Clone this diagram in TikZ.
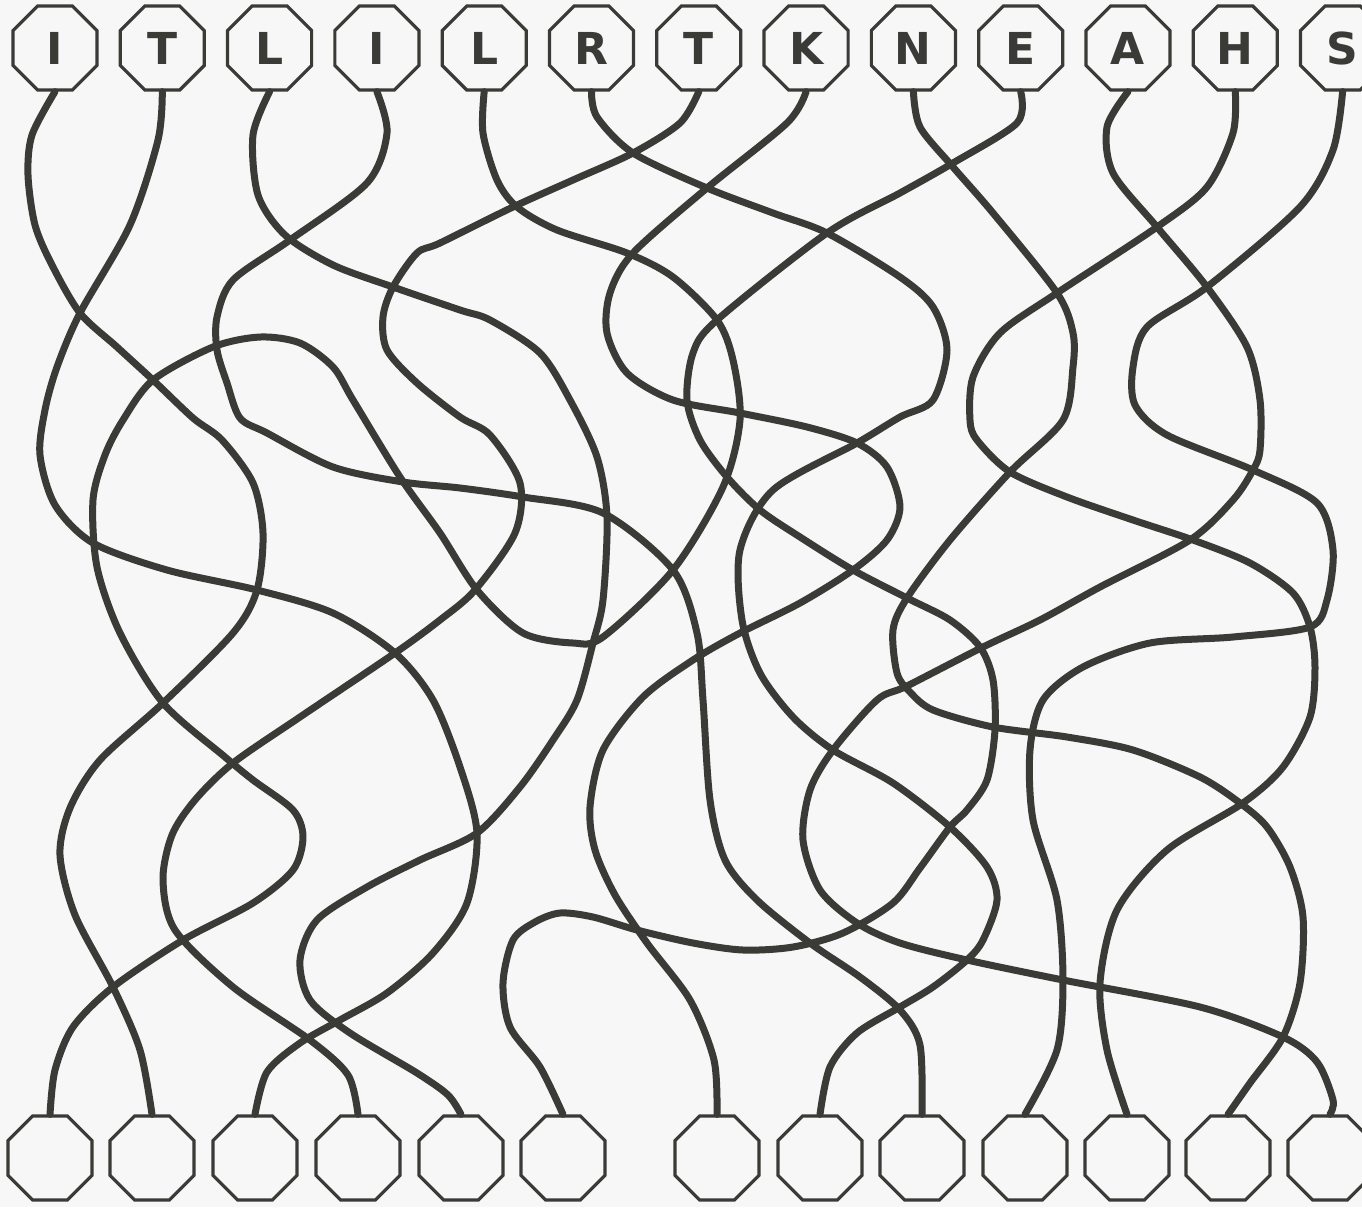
\documentclass[tikz,border=0pt]{standalone}
\usepackage{fontspec}
\newfontfamily\octfont{DejaVu Sans}
\usetikzlibrary{shapes.geometric}
\definecolor{ink}{HTML}{3A3A36}
\definecolor{paper}{HTML}{F7F7F8}
\tikzset{
  oct/.style={regular polygon, regular polygon sides=8, draw=ink, fill=paper,
    line width=1.6pt, minimum size=45.5pt, inner sep=0pt, text=ink,
    font=\octfont\bfseries\fontsize{22}{22}\selectfont},
  wire/.style={draw=ink, line width=3.5pt, line cap=round, line join=round}
}
\begin{document}
\begin{tikzpicture}[x=0.5pt, y=-0.5pt]
  \fill[paper] (0,0) rectangle (1362,1207);
  \useasboundingbox (0,0) rectangle (1362,1207);

  % 上の八角形
  \foreach \l [count=\i] in {I,T,L,I,L,R,T,K,N,E,A,H,S}
    \node[oct] (t\i) at ({55+107.3*(\i-1)},48) {\l};

  % 下の八角形
  \foreach \x [count=\i] in {50,152,255,358,461,563,717,820,922,1025,1127,1228,1330}
    \node[oct] (b\i) at (\x,1158) {};

  % 線
  \draw[wire] plot[smooth] coordinates {(t1.south) (32,135) (28,175) (35,225) (52,265) (80,313) (117,347) (153,380) (193,418) (222,440) (253,483) (263,533) (257,590) (233,633) (163,703) (100,760) (70,808) (60,855) (75,915) (113,987) (140,1050) (b2.north)};
  \draw[wire] plot[smooth] coordinates {(t2.south) (158,140) (130,225) (80,313) (57,367) (45,410) (40,455) (55,505) (93,543) (167,570) (257,590) (333,613) (395,653) (433,700) (460,767) (477,833) (467,903) (433,953) (387,993) (340,1020) (300,1043) (267,1072) (b3.north)};
  \draw[wire] plot[smooth] coordinates {(t3.south) (253,135) (258,195) (285,235) (333,265) (393,287) (460,310) (490,320) (540,353) (570,400) (597,457) (607,517) (603,600) (593,643) (577,700) (553,740) (520,787) (477,833) (420,860) (367,887) (317,920) (300,960) (310,1000) (350,1033) (417,1073) (448,1095) (b5.north)};
  \draw[wire] plot[smooth] coordinates {(t4.south) (387,133) (367,183) (290,240) (233,280) (217,317) (217,350) (227,383) (240,418) (267,433) (333,467) (403,482) (460,488) (523,497) (603,513) (673,570) (697,633) (703,700) (710,800) (725,860) (757,900) (810,943) (860,977) (900,1010) (920,1045) (b9.north)};
  \draw[wire] plot[smooth] coordinates {(t5.south) (483,133) (497,180) (517,207) (557,230) (627,253) (673,277) (717,320) (733,360) (740,420) (723,487) (673,570) (603,637) (573,643) (523,633) (477,590) (440,533) (400,477) (353,400) (333,367) (300,343) (260,337) (213,347) (153,380) (123,420) (105,455) (93,500) (97,567) (120,633) (163,703) (225,757) (253,780) (293,810) (303,837) (293,870) (253,903) (183,940) (113,987) (73,1027) (55,1070) (b1.north)};
  \draw[wire] plot[smooth] coordinates {(t6.south) (597,117) (633,153) (707,188) (773,213) (827,233) (900,277) (933,307) (947,350) (933,400) (900,417) (857,443) (773,490) (740,550) (742,620) (760,673) (793,717) (833,750) (893,783) (950,827) (987,867) (997,900) (983,940) (967,960) (933,987) (900,1007) (857,1033) (830,1067) (b8.north)};
  \draw[wire] plot[smooth] coordinates {(t7.south) (680,123) (633,153) (573,180) (513,207) (440,243) (417,253) (393,287) (383,317) (387,350) (417,383) (460,417) (490,435) (520,483) (515,533) (475,590) (440,620) (395,653) (300,717) (233,763) (195,800) (172,835) (163,880) (175,930) (233,987) (310,1040) (348,1075) (b4.north)};
  \draw[wire] plot[smooth] coordinates {(t8.south) (787,123) (707,188) (633,253) (610,293) (607,333) (627,373) (673,400) (740,413) (807,427) (857,443) (887,467) (900,507) (887,540) (853,570) (800,603) (740,633) (693,660) (643,697) (603,750) (590,807) (595,850) (615,895) (647,943) (690,1000) (714,1060) (b7.north)};
  \draw[wire] plot[smooth] coordinates {(t9.south) (920,127) (953,167) (993,213) (1057,293) (1073,333) (1073,367) (1063,420) (1010,472) (950,540) (907,598) (893,630) (897,673) (910,692) (933,710) (993,727) (1067,737) (1133,750) (1200,777) (1240,803) (1267,827) (1290,867) (1303,917) (1300,983) (1283,1037) (1250,1083) (b12.north)};
  \draw[wire] plot[smooth] coordinates {(t10.south) (1017,123) (953,163) (900,193) (827,233) (717,320) (693,353) (687,400) (700,440) (727,477) (760,510) (800,537) (853,570) (907,598) (950,620) (980,647) (993,680) (995,730) (987,780) (967,810) (950,827) (920,868) (893,903) (843,933) (793,947) (743,950) (693,943) (637,930) (593,917) (560,913) (535,922) (513,940) (503,983) (510,1027) (540,1067) (b6.north)};
  \draw[wire] plot[smooth] coordinates {(t11.south) (1107,127) (1113,173) (1157,227) (1207,287) (1247,347) (1260,400) (1260,450) (1253,470) (1233,500) (1190,540) (1100,587) (1040,620) (983,647) (907,686) (877,700) (833,750) (810,790) (803,840) (820,890) (857,923) (900,943) (967,960) (1063,980) (1200,1007) (1283,1037) (1317,1062) (1333,1100) (b13.north)};
  \draw[wire] plot[smooth] coordinates {(t12.south) (1233,133) (1207,187) (1157,227) (1057,293) (1000,333) (973,377) (970,420) (977,440) (1010,472) (1067,497) (1133,520) (1193,540) (1250,563) (1293,593) (1310,627) (1315,667) (1310,717) (1283,767) (1243,803) (1167,850) (1117,910) (1100,983) (1107,1050) (b11.north)};
  \draw[wire] plot[smooth] coordinates {(t13.south) (1333,150) (1300,207) (1207,287) (1147,327) (1133,367) (1135,405) (1167,435) (1253,470) (1317,503) (1333,550) (1327,600) (1310,627) (1233,637) (1150,643) (1083,667) (1043,700) (1030,750) (1033,820) (1057,900) (1063,980) (1057,1050) (b10.north)};
\end{tikzpicture}
\end{document}
